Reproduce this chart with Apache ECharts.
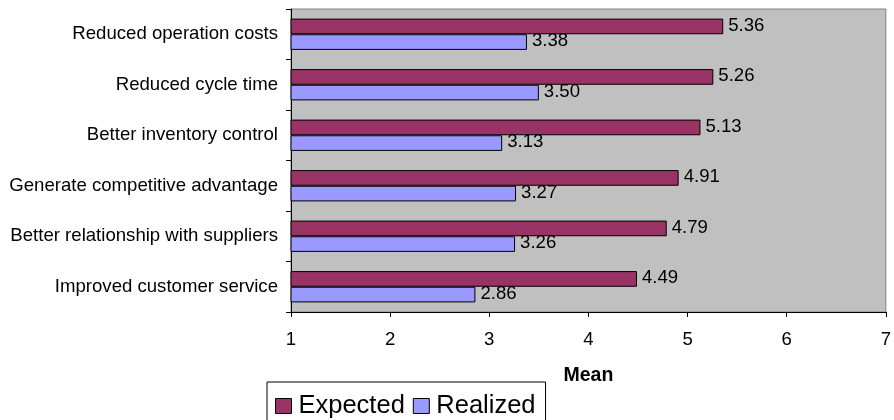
<!DOCTYPE html>
<html>
<head>
<meta charset="utf-8">
<title>Expected vs realized benefits</title>
<script src="https://cdn.jsdelivr.net/npm/echarts@6/dist/echarts.min.js"></script>
<style>
  html, body { margin: 0; padding: 0; background: #ffffff; }
  #chart { width: 894px; height: 420px; }
</style>
</head>
<body>
<div id="chart"></div>
<script>
// Benefit categories, listed top to bottom
const categories = [
  'Reduced operation costs',
  'Reduced cycle time',
  'Better inventory control',
  'Generate competitive advantage',
  'Better relationship with suppliers',
  'Improved customer service'
];

// Mean scores per benefit
const expectedValues = [5.36, 5.26, 5.13, 4.91, 4.79, 4.49];
const realizedValues = [3.38, 3.50, 3.13, 3.27, 3.26, 2.86];

// Value axis range and ticks
const axisMin = 1;
const axisMax = 7;
const axisStep = 1;

const seriesNames = ['Expected', 'Realized'];
const axisTitle = 'Mean';

const FONT = "'Liberation Sans', Arial, Helvetica, sans-serif";
const BASE_SIZE = 18.6;

const chart = echarts.init(document.getElementById('chart'), null, { renderer: 'canvas' });

const valueLabel = {
  show: true,
  position: 'right',
  distance: 5,
  offset: [0, -1],
  color: '#000000',
  fontFamily: FONT,
  fontSize: BASE_SIZE,
  formatter: p => Number(p.value).toFixed(2)
};

chart.setOption({
  animation: false,
  backgroundColor: '#ffffff',
  textStyle: { fontFamily: FONT },
  grid: {
    left: 291,
    right: 5,
    top: 9,
    bottom: 108,
    show: true,
    backgroundColor: '#C0C0C0',
    borderColor: '#808080',
    borderWidth: 1
  },
  legend: {
    data: seriesNames,
    left: 267,
    top: 382,
    orient: 'horizontal',
    itemWidth: 16,
    itemHeight: 15,
    itemGap: 8,
    padding: [11, 10, 5, 8],
    borderColor: '#000000',
    borderWidth: 1,
    icon: 'rect',
    itemStyle: { borderColor: '#000000', borderWidth: 1 },
    textStyle: { fontFamily: FONT, fontSize: 25.5, color: '#000000', padding: [0, 0, 0, 2] }
  },
  xAxis: {
    type: 'value',
    min: axisMin,
    max: axisMax,
    interval: axisStep,
    name: axisTitle,
    nameLocation: 'middle',
    nameGap: 54,
    nameTextStyle: { fontFamily: FONT, fontSize: 19.5, fontWeight: 'bold', color: '#000000' },
    axisLine: { show: true, lineStyle: { color: '#000000', width: 1 } },
    axisTick: { show: true, length: 5, inside: false, lineStyle: { color: '#000000' } },
    axisLabel: { margin: 18, fontFamily: FONT, fontSize: BASE_SIZE, color: '#000000' },
    splitLine: { show: false }
  },
  yAxis: {
    type: 'category',
    data: categories,
    inverse: true,
    axisLine: { show: true, lineStyle: { color: '#000000', width: 1 } },
    axisTick: { show: true, length: 5, inside: false, lineStyle: { color: '#000000' } },
    axisLabel: { margin: 13, fontFamily: FONT, fontSize: BASE_SIZE, color: '#000000' },
    splitLine: { show: false }
  },
  series: [
    {
      name: seriesNames[0],
      type: 'bar',
      data: expectedValues,
      barGap: '0%',
      barCategoryGap: '38%',
      itemStyle: { color: '#993366', borderColor: '#000000', borderWidth: 1 },
      label: valueLabel
    },
    {
      name: seriesNames[1],
      type: 'bar',
      data: realizedValues,
      barGap: '0%',
      barCategoryGap: '38%',
      itemStyle: { color: '#9999FF', borderColor: '#000000', borderWidth: 1 },
      label: valueLabel
    }
  ]
});
</script>
</body>
</html>
